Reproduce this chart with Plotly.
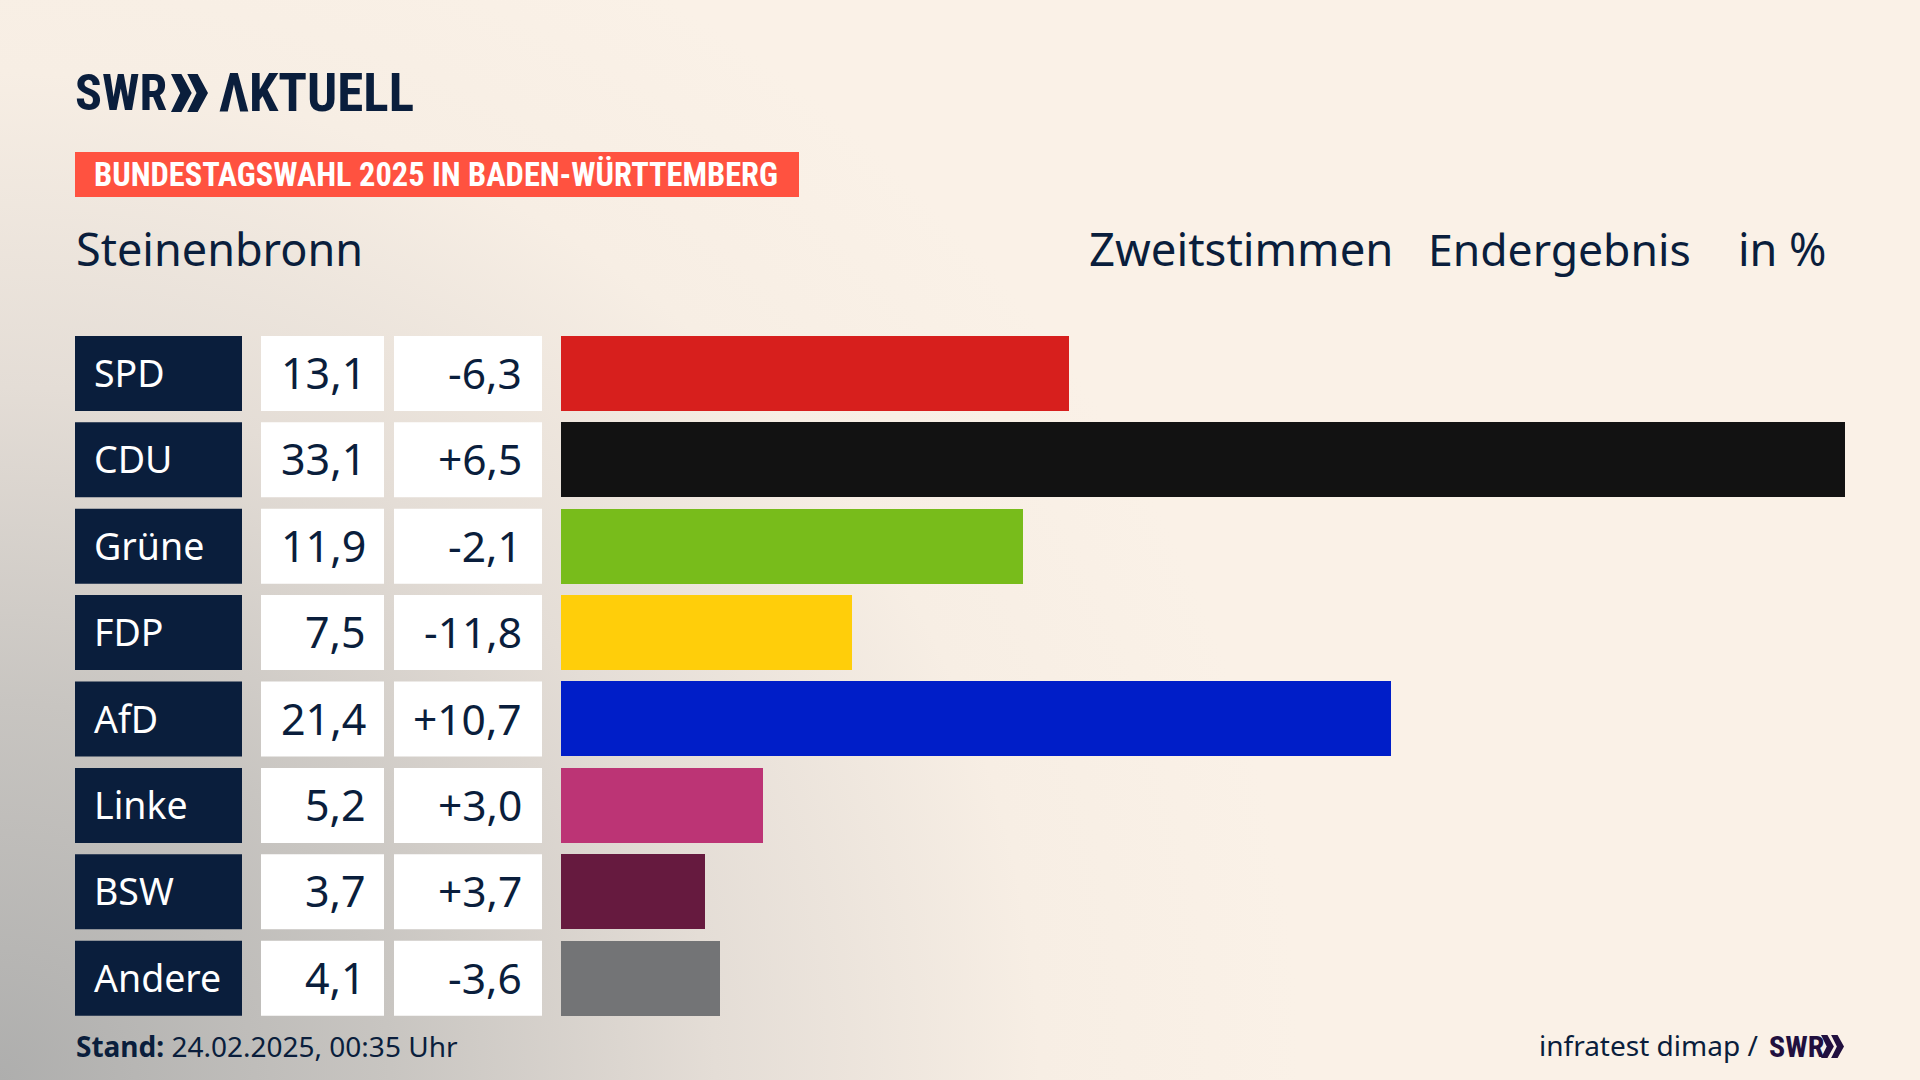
import base64
import plotly.graph_objects as go

parties = ["SPD", "CDU", "Grüne", "FDP", "AfD", "Linke", "BSW", "Andere"]
results = [13.1, 33.1, 11.9, 7.5, 21.4, 5.2, 3.7, 4.1]
changes = [-6.3, 6.5, -2.1, -11.8, 10.7, 3.0, 3.7, -3.6]
colors = ["#D71F1D", "#121212", "#78BC1B", "#FFCE0A", "#001EC8", "#BC3475", "#661A3F", "#737476"]

NAVY = "#0A1E3C"
FONT = "Noto Sans"
LOGO_FONT = "Roboto Condensed"
W, H = 1920, 1080
BAR_WIDTH = 0.868


def px(x):
    return x / W


def py(y):
    return 1 - y / H


def label(x, y, text, size, color=NAVY, anchor="left", family=FONT, yref="paper"):
    return dict(x=px(x), y=py(y) if yref == "paper" else y, xref="paper", yref=yref,
                text=text, showarrow=False, xanchor=anchor, yanchor="middle",
                yshift=1 if yref == "y" else 0,
                font=dict(family=family, size=size, color=color), borderpad=0)


def chevrons(x0, y0, w, h, color):
    # the two arrows of the SWR logo
    shapes = []
    for i in range(2):
        left = x0 + i * w * 0.44
        pts = [(left, y0), (left + w * 0.28, y0), (left + w * 0.56, y0 + h / 2),
               (left + w * 0.28, y0 + h), (left, y0 + h), (left + w * 0.25, y0 + h / 2)]
        path = "M " + " L ".join(f"{px(a):.5f},{py(b):.5f}" for a, b in pts) + " Z"
        shapes.append(dict(type="path", path=path, xref="paper", yref="paper",
                           fillcolor=color, line_width=0))
    return shapes


background = f"""<svg xmlns="http://www.w3.org/2000/svg" width="{W}" height="{H}">
<defs><radialGradient id="g" gradientUnits="userSpaceOnUse" cx="0" cy="0" r="1"
gradientTransform="translate(0 {H}) scale(1300 1260)">
<stop offset="0" stop-color="#AEAEAD"/><stop offset="0.3" stop-color="#C8C5C1"/>
<stop offset="0.55" stop-color="#E4DDD6"/><stop offset="0.8" stop-color="#F7EEE4"/>
<stop offset="1" stop-color="#FAF1E7"/>
</radialGradient></defs><rect width="{W}" height="{H}" fill="url(#g)"/></svg>"""
background_uri = "data:image/svg+xml;base64," + base64.b64encode(background.encode()).decode()

fig = go.Figure(go.Bar(x=results, y=list(range(len(parties))), orientation="h",
                       width=BAR_WIDTH, marker=dict(color=colors, line_width=0),
                       hoverinfo="skip"))

shapes = []
annotations = []
for i, party in enumerate(parties):
    for x0, x1, fill in [(75, 242, NAVY), (261, 384, "white"), (394, 542, "white")]:
        shapes.append(dict(type="rect", xref="paper", yref="y", x0=px(x0), x1=px(x1),
                           y0=i - BAR_WIDTH / 2, y1=i + BAR_WIDTH / 2,
                           fillcolor=fill, line_width=0, layer="below"))
    annotations.append(label(93, i, party, 37.5, "white", yref="y"))
    annotations.append(label(367, i, f"{results[i]:.1f}".replace(".", ","), 43, anchor="right", yref="y"))
    annotations.append(label(523, i, f"{changes[i]:+.1f}".replace(".", ","), 42.5, anchor="right", yref="y"))

# header
shapes.append(dict(type="rect", xref="paper", yref="paper", x0=px(75), x1=px(799),
                   y0=py(197), y1=py(152), fillcolor="#FF5240", line_width=0, layer="below"))
annotations.append(label(74, 93, "<b>SWR</b>", 50, family=LOGO_FONT))
annotations.append(label(218, 93, "<b>ΛKTUELL</b>", 53, family=LOGO_FONT))
shapes += chevrons(171, 74, 37, 38, NAVY)
annotations.append(label(93, 175, "<b>BUNDESTAGSWAHL 2025 IN BADEN-WÜRTTEMBERG</b>", 32.4, "white", family=LOGO_FONT))
annotations.append(label(75, 248, "Steinenbronn", 45))
annotations.append(label(1088, 248, "Zweitstimmen", 45.5))
annotations.append(label(1427, 248, "Endergebnis", 44.5))
annotations.append(label(1737, 248, "in %", 45))

# footer
annotations.append(label(75, 1046, "<b>Stand:</b> 24.02.2025, 00:35 Uhr", 28))
annotations.append(label(1538, 1045, "infratest dimap /", 28))
annotations.append(label(1768, 1046, "<b>SWR</b>", 30, "#21103F", family=LOGO_FONT))
shapes += chevrons(1821, 1035, 23, 23, "#21103F")

fig.update_layout(
    width=W, height=H, margin=dict(l=0, r=0, t=0, b=0),
    paper_bgcolor="#FAF1E7", plot_bgcolor="rgba(0,0,0,0)",
    showlegend=False, bargap=0, shapes=shapes, annotations=annotations,
    images=[dict(source=background_uri, xref="paper", yref="paper", x=0, y=1,
                 sizex=1, sizey=1, sizing="stretch", xanchor="left", yanchor="top", layer="below")],
    xaxis=dict(domain=[px(561), px(1845)], range=[0, 33.1], visible=False),
    yaxis=dict(domain=[py(1021.4), py(330.2)], range=[7.5, -0.5], visible=False),
)

fig.write_html("out.html", config={"displayModeBar": False},
               post_script="document.body.style.margin='0';document.body.style.overflow='hidden';")
